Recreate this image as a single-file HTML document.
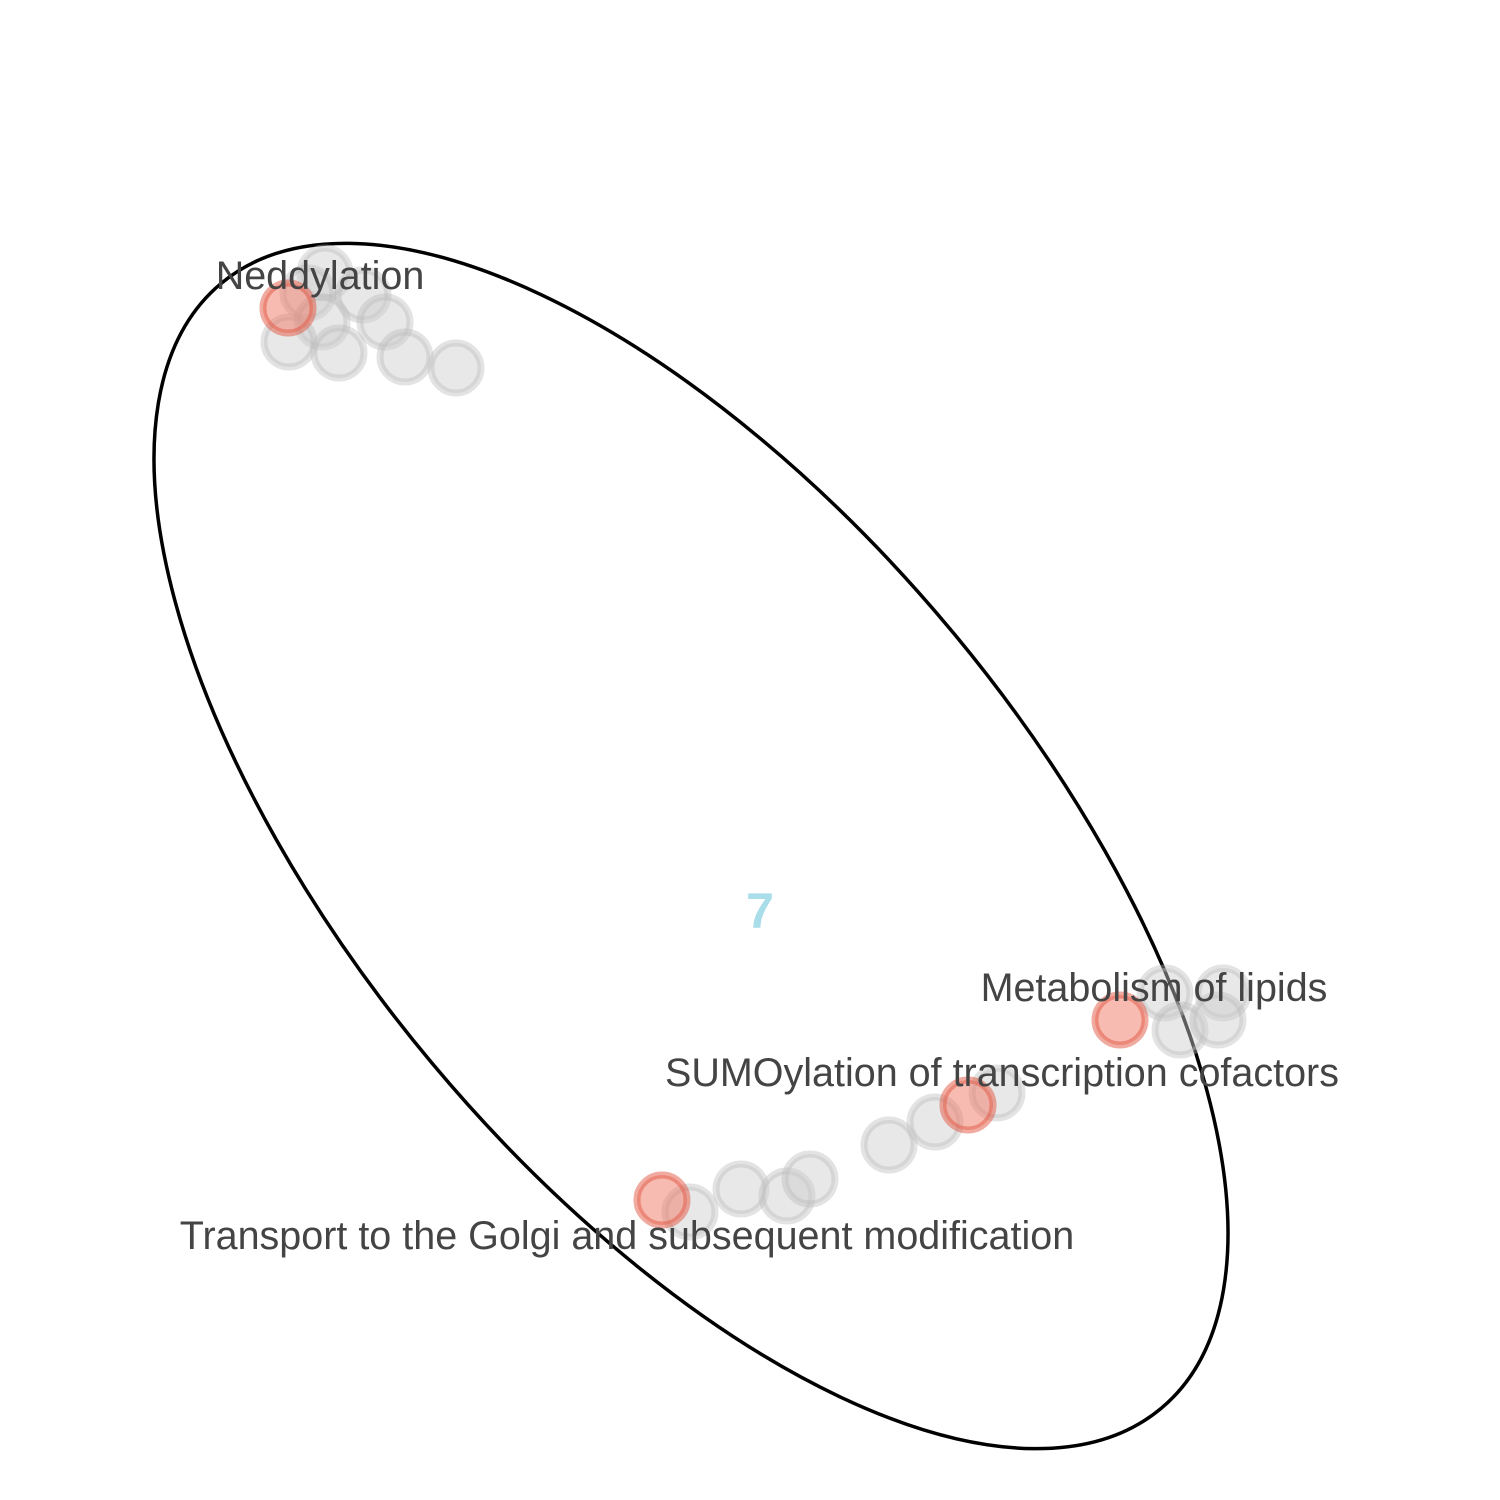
<!DOCTYPE html>
<html><head><meta charset="utf-8"><style>html,body{margin:0;background:#fff;overflow:hidden;width:1500px;height:1500px}svg{display:block}</style></head>
<body>
<svg id="chart" width="1500" height="1500" viewBox="0 0 1500 1500" xmlns="http://www.w3.org/2000/svg">
<ellipse cx="691" cy="846" rx="733" ry="338" transform="rotate(50.1 691 846)" fill="none" stroke="#000" stroke-width="3.5"/>
<g id="pts"></g>
<text x="760" y="928" text-anchor="middle" font-family="Liberation Sans, sans-serif" font-weight="bold" font-size="50" fill="#a8dde9">7</text>
<g id="labels" font-family="Liberation Sans, sans-serif" font-size="39.5" fill="#444" text-anchor="middle"></g>
</svg>
<script>
const px=[325,308,363,322,385,289,339,405,456,288, 1165,1223,1180,1218,1120, 690,741,787,810,889,935,997,662,968];
const py=[273,293,295,322,322,342,353,357,368,308, 993,993,1030,1020,1020, 1212,1189,1196,1179,1145,1122,1093,1200,1105];
const highlighted=[0,0,0,0,0,0,0,0,0,1, 0,0,0,0,1, 0,0,0,0,0,0,0,1,1];
const labelText=["Neddylation","Metabolism of lipids","SUMOylation of transcription cofactors","Transport to the Golgi and subsequent modification"];
const labelX=[320,1154,1002,627];
const labelY=[289,1001,1086,1249];
const NS="http://www.w3.org/2000/svg";
const g=document.getElementById('pts');
const order=[...px.keys()].sort((a,b)=>highlighted[a]-highlighted[b]);
for(const i of order){
  const c=document.createElementNS(NS,'circle');
  
  
  c.setAttribute('cx',px[i]);c.setAttribute('cy',py[i]);c.setAttribute('r',25);
  c.setAttribute('stroke-width',7);
  if(highlighted[i]){c.setAttribute('fill','rgba(240,120,100,0.5)');c.setAttribute('stroke','rgba(225,85,65,0.5)');}
  else{c.setAttribute('fill','rgba(205,205,205,0.45)');c.setAttribute('stroke','rgba(185,185,185,0.4)');}
  g.appendChild(c);
}
const lg=document.getElementById('labels');
labelText.forEach((t,i)=>{
  const e=document.createElementNS(NS,'text');
  
  
  e.setAttribute('x',labelX[i]);e.setAttribute('y',labelY[i]);
  e.textContent=t;lg.appendChild(e);
});
</script>
</body></html>
